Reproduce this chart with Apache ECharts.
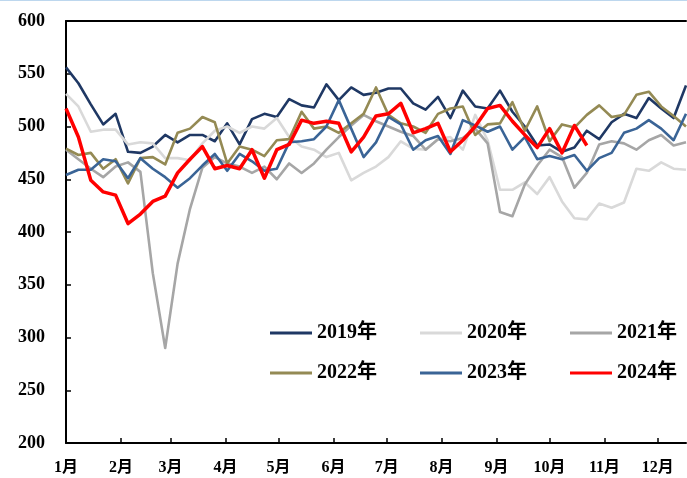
<!DOCTYPE html>
<html>
<head>
<meta charset="utf-8">
<script src="https://cdn.jsdelivr.net/npm/echarts@6/dist/echarts.min.js"></script>
<style>
  html, body { margin: 0; padding: 0; background: #fff; }
  #wrap { position: relative; width: 687px; height: 478px; }
  #chart { width: 687px; height: 478px; }
  #topline { position: absolute; left: 0; top: 0; width: 687px; height: 1px; background: #bdd7ee; }
</style>
</head>
<body>
<div id="wrap">
  <div id="chart"></div>
  <div id="topline"></div>
</div>
<script>
// Weekly observation dates (month/day), shared by every year
const weekDates = [
  '1/1','1/8','1/15','1/22','1/29',
  '2/5','2/12','2/19','2/26',
  '3/5','3/12','3/19','3/26',
  '4/2','4/9','4/16','4/23','4/30',
  '5/7','5/14','5/21','5/28',
  '6/4','6/11','6/18','6/25',
  '7/2','7/9','7/16','7/23','7/30',
  '8/6','8/13','8/20','8/27',
  '9/3','9/10','9/17','9/24',
  '10/1','10/8','10/15','10/22','10/29',
  '11/5','11/12','11/19','11/26',
  '12/3','12/10','12/17'
];

// Month tick labels and the day-of-year on which each month starts
const monthLabels = ['1月','2月','3月','4月','5月','6月','7月','8月','9月','10月','11月','12月'];
const monthStartDay = [0, 31, 59, 90, 120, 151, 181, 212, 243, 273, 304, 334];

const yearNames = ['2019年','2020年','2021年','2022年','2023年','2024年'];

const v2019 = [556,541,521,502,512,476,475,481,492,485,492,492,486,503,483,507,512,509,526,520,518,540,525,537,530,532,536,536,522,516,528,508,534,519,517,534,514,500,482,483,476,480,496,488,504,512,508,527,517,508,539];
const v2020 = [531,519,495,497,497,483,485,484,470,470,468,484,496,500,494,500,498,508,490,481,478,471,475,449,456,462,471,486,479,478,488,490,478,511,487,440,440,447,436,452,429,413,412,427,423,428,460,458,466,460,459];
const v2021 = [478,469,460,452,462,466,457,361,290,370,422,461,471,465,462,456,462,450,465,456,465,478,490,501,511,505,500,495,491,478,488,486,489,498,484,419,415,445,463,478,471,442,456,483,486,484,478,487,492,482,485];
const v2022 = [479,473,475,460,469,446,470,471,464,494,498,509,504,465,481,478,472,487,488,514,498,500,494,503,512,537,511,503,500,494,512,517,519,492,502,503,523,496,519,486,502,499,511,520,509,511,530,533,519,510,500];
const v2023 = [454,459,459,469,467,451,470,460,452,442,451,463,474,458,474,467,458,460,485,486,488,500,525,498,471,485,509,502,478,487,491,474,506,501,495,500,478,490,469,472,469,473,458,470,475,494,498,506,498,487,512];
const v2024 = [517,490,449,438,435,408,417,429,434,456,469,481,460,463,460,478,451,478,483,506,503,505,503,476,490,510,512,522,494,498,503,476,487,500,517,520,505,492,480,498,475,501,482];

const yTicks = { min: 200, max: 600, step: 50 };

const lineColors = ['#1f3864', '#d9d9d9', '#a6a6a6', '#948a54', '#3a6496', '#ff0000'];
const lineWidths = [2.6, 2.6, 2.6, 2.6, 2.6, 3.5];

function dayOfYear(md) {
  const [m, d] = md.split('/').map(Number);
  return monthStartDay[m - 1] + d - 1;
}

function pairs(values) {
  return values.map((v, i) => [dayOfYear(weekDates[i]), v]);
}

const allValues = [v2019, v2020, v2021, v2022, v2023, v2024];
const serif = '"Liberation Serif", "Times New Roman", "Noto Sans CJK SC", serif';
const lastDay = dayOfYear(weekDates[weekDates.length - 1]);

const chart = echarts.init(document.getElementById('chart'), null, { renderer: 'canvas' });

const series = allValues.map((vals, i) => ({
  name: yearNames[i],
  type: 'line',
  data: pairs(vals),
  showSymbol: false,
  symbol: 'none',
  smooth: false,
  lineStyle: { color: lineColors[i], width: lineWidths[i], join: 'round' },
  itemStyle: { color: lineColors[i] },
  z: 2 + i,
  animation: false
}));

const legendText = { fontFamily: serif, fontSize: 20, fontWeight: 'bold', color: '#000' };

chart.setOption({
  animation: false,
  backgroundColor: '#fff',
  grid: { left: 66, right: 1, top: 21, bottom: 35, containLabel: false },
  legend: [
    {
      data: yearNames.slice(0, 3),
      left: 265, top: 318,
      icon: 'rect', itemWidth: 42, itemHeight: 3, itemGap: 43,
      textStyle: legendText
    },
    {
      data: yearNames.slice(3),
      left: 265, top: 358,
      icon: 'rect', itemWidth: 42, itemHeight: 3, itemGap: 43,
      textStyle: legendText
    }
  ],
  xAxis: [
    {
      type: 'value',
      min: 0, max: lastDay,
      position: 'bottom',
      axisLine: { show: true, lineStyle: { color: '#000', width: 2 } },
      axisTick: { show: true, inside: true, length: 5, customValues: monthStartDay.slice(1), lineStyle: { color: '#000', width: 1.5 } },
      axisLabel: {
        show: true,
        customValues: monthStartDay,
        formatter: (val) => monthLabels[monthStartDay.indexOf(Math.round(val))] || '',
        fontFamily: serif, fontSize: 16, fontWeight: 'bold', color: '#000', margin: 17
      },
      splitLine: { show: false }
    },
    {
      type: 'value',
      min: 0, max: lastDay,
      position: 'top',
      axisLine: { show: true, lineStyle: { color: '#000', width: 2 } },
      axisTick: { show: false },
      axisLabel: { show: false },
      splitLine: { show: false }
    }
  ],
  yAxis: {
    type: 'value',
    min: yTicks.min, max: yTicks.max, interval: yTicks.step,
    axisLine: { show: true, lineStyle: { color: '#000', width: 2 } },
    axisTick: { show: true, inside: true, length: 5, lineStyle: { color: '#000', width: 1.5 } },
    axisLabel: { fontFamily: serif, fontSize: 18, fontWeight: 'bold', color: '#000', margin: 21 },
    splitLine: { show: false }
  },
  series: series
});
</script>
</body>
</html>
